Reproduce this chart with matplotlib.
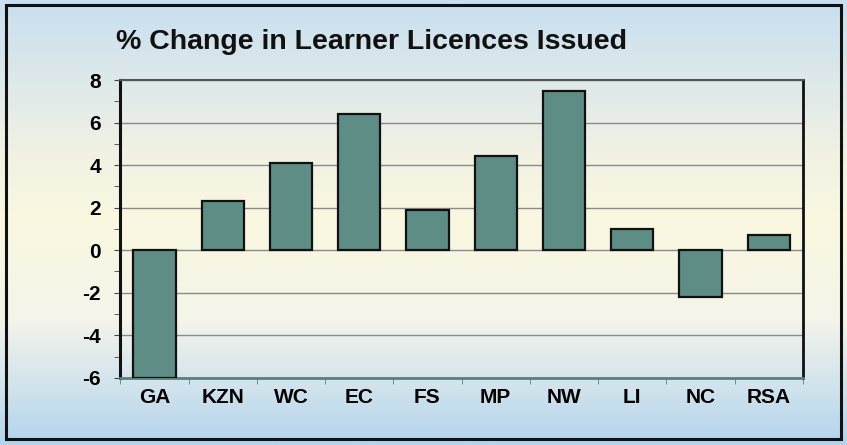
import numpy as np
import matplotlib
matplotlib.use("Agg")
import matplotlib.pyplot as plt
from matplotlib.colors import LinearSegmentedColormap
from matplotlib.patches import Rectangle

# % change per province
regions = ["GA", "KZN", "WC", "EC", "FS", "MP", "NW", "LI", "NC", "RSA"]
change = [-6.0, 2.3, 4.1, 6.4, 1.9, 4.45, 7.5, 1.0, -2.2, 0.7]
yticks = [-6, -4, -2, 0, 2, 4, 6, 8]

plt.rcParams['font.family'] = ['Liberation Sans', 'DejaVu Sans']

fig = plt.figure(figsize=(8.47, 4.45), dpi=100)

# gradient background (blue -> pale yellow -> blue)
bg = fig.add_axes([0, 0, 1, 1], zorder=-10)
cmap = LinearSegmentedColormap.from_list(
    "bg", [(0, "#c8dff0"), (0.35, "#f2f2e4"), (0.5, "#faf8e0"), (0.72, "#f4f4ea"), (1, "#b3d4ee")])
grad = np.linspace(0, 1, 256).reshape(-1, 1)
bg.imshow(grad, aspect="auto", cmap=cmap, extent=[0, 1, 0, 1])
bg.set_axis_off()
fig.patches.append(Rectangle((0.007, 0.014), 0.986, 0.974, transform=fig.transFigure,
                             fill=False, edgecolor="#111111", lw=2.2))

ax = fig.add_axes([0.142, 0.151, 0.806, 0.669])
ax.patch.set_alpha(0)
x = np.arange(len(regions))
ax.bar(x, change, width=0.62, color="#5e8d86", edgecolor="#111111", linewidth=1.6, zorder=3)

ax.set_xlim(-0.5, len(regions) - 0.5)
ax.set_ylim(-6, 8)
ax.set_yticks(yticks)
ax.set_yticks(np.arange(-6, 9, 1), minor=True)
ax.set_xticks(x)
ax.set_xticklabels(regions, fontsize=15, fontweight="bold")
ax.set_yticklabels([str(v) for v in yticks], fontsize=15, fontweight="bold")
ax.set_xticks(np.arange(-0.5, len(regions), 1), minor=True)
ax.tick_params(axis="x", which="major", length=0, pad=7)
ax.tick_params(axis="x", which="minor", length=4, color="#5a7f80")
ax.tick_params(axis="y", which="both", length=4, color="#444444", pad=10)

ax.grid(axis="y", color="#8a8a8a", linewidth=1.0, zorder=0)
ax.spines["left"].set_linewidth(2.2)
ax.spines["left"].set_color("#111111")
ax.spines["right"].set_linewidth(2.0)
ax.spines["right"].set_color("#111111")
ax.spines["top"].set_color("#555555")
ax.spines["top"].set_linewidth(1.5)
ax.spines["bottom"].set_color("#5a7f80")
ax.spines["bottom"].set_linewidth(2.0)

fig.text(0.137, 0.905, "% Change in Learner Licences Issued", fontsize=20.5,
         fontweight="bold", ha="left", va="center", color="#111111")

fig.savefig("out.png", dpi=100)
